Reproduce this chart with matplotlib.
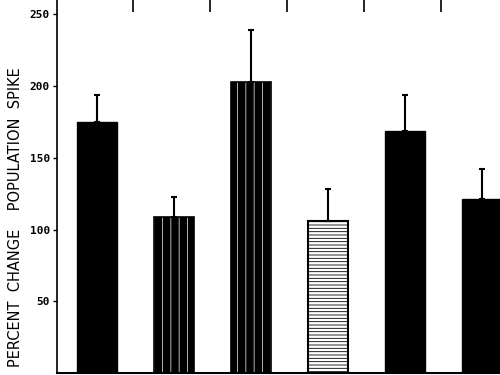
import numpy as np
import matplotlib.pyplot as plt

# dados
grupos = ['1', '2', '3', '4', '5', '6']
media = [175, 109, 203, 106, 169, 121]
erro = [19, 14, 36, 22, 25, 21]
yticks = [50, 100, 150, 200, 250]

pos = np.arange(len(grupos))

plt.rcParams['hatch.linewidth'] = 0.6

fig = plt.figure(figsize=(5, 3.75), dpi=100)
ax = fig.add_axes([0.114, 0.005, 0.886, 0.995])

# barras solidas
solidas = [0, 4, 5]
ax.bar(pos[solidas], [media[i] for i in solidas], width=0.52,
       color='black', edgecolor='black', linewidth=1)
# barras com listras verticais
vert = [1, 2]
ax.bar(pos[vert], [media[i] for i in vert], width=0.52,
       color='black', edgecolor='#d0d0d0', hatch='||', linewidth=0)
ax.bar(pos[vert], [media[i] for i in vert], width=0.52,
       color='none', edgecolor='black', linewidth=1.2)
# barra com listras horizontais
ax.bar(pos[3], media[3], width=0.52, color='white',
       edgecolor='black', hatch='-----', linewidth=1.5)

# barras de erro (so para cima)
ax.errorbar(pos, media, yerr=[np.zeros(len(erro)), erro], fmt='none',
            ecolor='black', elinewidth=1.5, capsize=2.5, capthick=1.5)

# marcas do painel de cima
ax.vlines(pos[:-1] + 0.47, 251.5, 262, color='black', linewidth=1.2)

ax.set_xlim(-0.52, 5.23)
ax.set_ylim(0, 260)
ax.set_yticks(yticks)
ax.set_yticklabels([str(v) for v in yticks], fontsize=8,
                   family='DejaVu Sans Mono', fontweight='bold')
ax.set_xticks([])
ax.tick_params(axis='y', length=3, width=1, pad=2)
for s in ['top', 'right']:
    ax.spines[s].set_visible(False)
ax.spines['left'].set_linewidth(1.2)
ax.spines['bottom'].set_linewidth(1.5)

fig.text(0.032, 0.42, 'PERCENT  CHANGE    POPULATION  SPIKE', rotation=90,
         ha='center', va='center', fontsize=10.5, family='DejaVu Sans')

plt.savefig('out.png', dpi=100)
